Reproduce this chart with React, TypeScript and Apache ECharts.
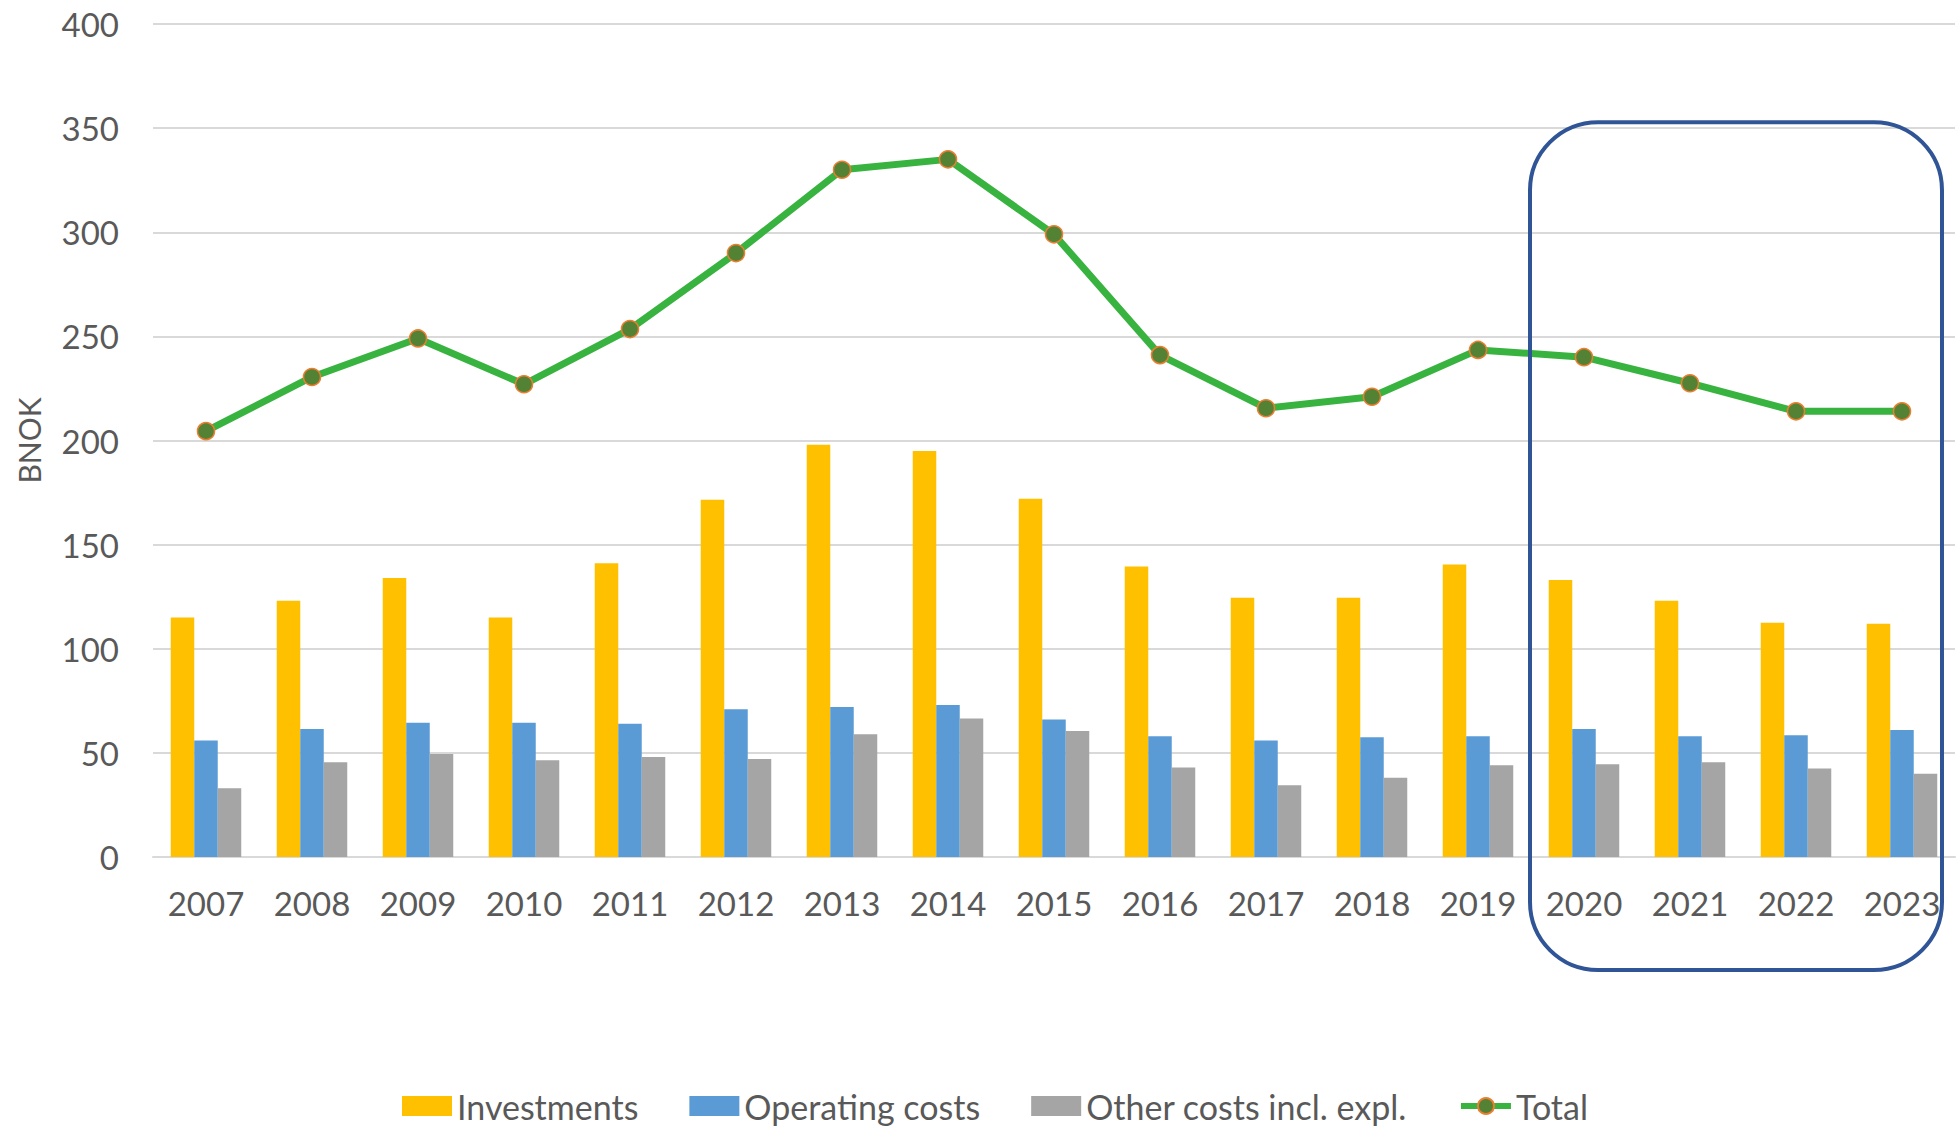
import React, { useEffect, useRef } from "react";
import * as echarts from "echarts";

const years = ["2007","2008","2009","2010","2011","2012","2013","2014","2015","2016","2017","2018","2019","2020","2021","2022","2023"];
const investments = [115, 123, 134, 115, 141, 171.5, 198, 195, 172, 139.5, 124.5, 124.5, 140.5, 133, 123, 112.5, 112];
const operatingCosts = [56, 61.5, 64.5, 64.5, 64, 71, 72, 73, 66, 58, 56, 57.5, 58, 61.5, 58, 58.5, 61];
const otherCosts = [33, 45.5, 49.5, 46.5, 48, 47, 59, 66.5, 60.5, 43, 34.5, 38, 44, 44.5, 45.5, 42.5, 40];
const total = [204.5, 230.5, 249, 227, 253.5, 290, 330, 335, 299, 241, 215.5, 221, 243.5, 240, 227.5, 214, 214];
const seriesNames = ["Investments", "Operating costs", "Other costs incl. expl.", "Total"];
const highlightYears = ["2020", "2023"];

const FONT = "Lato, 'Open Sans', sans-serif";
const TXT = "#595959";
const LINE_GREEN = "#39B340";

export default function App() {
  const ref = useRef<HTMLDivElement>(null);
  useEffect(() => {
    document.body.style.margin = "0";
    const chart = echarts.init(ref.current!, null, { renderer: "svg" });
    chart.setOption({
      animation: false,
      backgroundColor: "#ffffff",
      textStyle: { fontFamily: FONT },
      grid: { left: 153, right: 4, top: 24, bottom: 271, containLabel: false, outerBoundsMode: "none" },
      legend: {
        left: 397,
        top: 1084,
        itemWidth: 50,
        itemHeight: 20,
        itemGap: 51,
        textStyle: { fontSize: 34, color: TXT, fontFamily: FONT },
        data: [
          { name: seriesNames[0], icon: "rect" },
          { name: seriesNames[1], icon: "rect" },
          { name: seriesNames[2], icon: "rect" },
          { name: seriesNames[3], lineStyle: { width: 6, color: LINE_GREEN } },
        ],
      },
      xAxis: {
        type: "category",
        data: years,
        axisTick: { show: false },
        axisLine: { show: true, lineStyle: { color: "#D9D9D9", width: 2 } },
        axisLabel: { color: TXT, fontSize: 33, margin: 29, fontFamily: FONT },
      },
      yAxis: {
        type: "value",
        min: 0,
        max: 400,
        interval: 50,
        name: "BNOK",
        nameLocation: "middle",
        nameGap: 109,
        nameTextStyle: { color: TXT, fontSize: 30, fontFamily: FONT },
        axisLine: { show: false },
        axisTick: { show: false },
        axisLabel: { color: TXT, fontSize: 33, margin: 34, fontFamily: FONT },
        splitLine: { lineStyle: { color: "#D9D9D9", width: 2 } },
      },
      series: [
        { name: seriesNames[0], type: "bar", data: investments, barWidth: 23.5, barGap: "0%", itemStyle: { color: "#FFC000" } },
        { name: seriesNames[1], type: "bar", data: operatingCosts, barWidth: 23.5, barGap: "0%", itemStyle: { color: "#5B9BD5" } },
        { name: seriesNames[2], type: "bar", data: otherCosts, barWidth: 23.5, barGap: "0%", itemStyle: { color: "#A5A5A5" } },
        {
          name: seriesNames[3],
          type: "line",
          data: total,
          z: 5,
          symbol: "circle",
          symbolSize: 17,
          lineStyle: { color: LINE_GREEN, width: 7 },
          itemStyle: { color: "#548235", borderColor: "#ED7D31", borderWidth: 1.5 },
        },
      ],
    });
    const x0 = chart.convertToPixel({ xAxisIndex: 0 }, highlightYears[0]) as number;
    const x1 = chart.convertToPixel({ xAxisIndex: 0 }, highlightYears[1]) as number;
    const yTop = chart.convertToPixel({ yAxisIndex: 0 }, 350) as number;
    const yZero = chart.convertToPixel({ yAxisIndex: 0 }, 0) as number;
    const left = x0 - 54;
    const right = x1 + 40;
    const top = yTop - 6;
    const bottom = yZero + 113;
    chart.setOption({
      graphic: [
        {
          type: "rect",
          z: 100,
          shape: { x: left, y: top, width: right - left, height: bottom - top, r: 68 },
          style: { fill: "none", stroke: "#2F5597", lineWidth: 4 },
        },
      ],
    });
    return () => chart.dispose();
  }, []);
  return <div ref={ref} style={{ position: "fixed", left: 0, top: 0, width: 1959, height: 1128 }} />;
}
